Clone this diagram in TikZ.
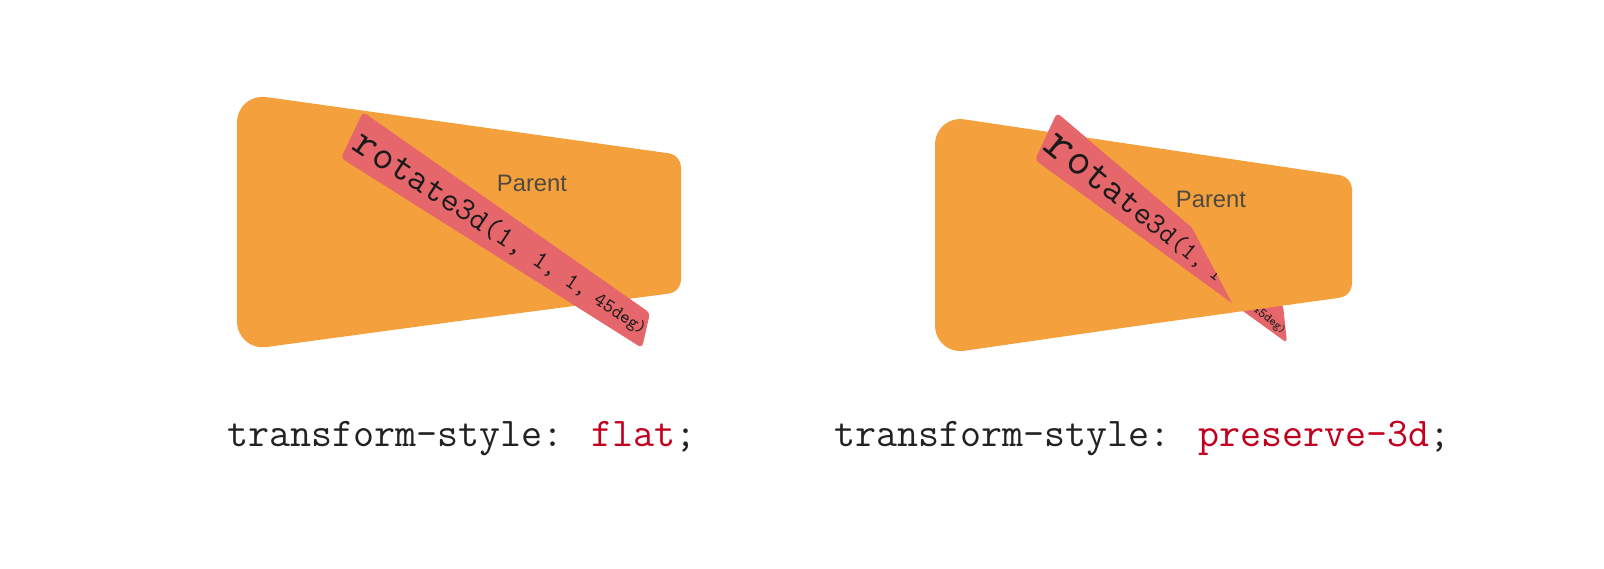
\documentclass[tikz,border=0pt]{standalone}
\usepackage{fontspec}
\newfontfamily\parentfont{Liberation Sans}
\usetikzlibrary{calc}
\definecolor{parentfill}{HTML}{F4A03D}
\definecolor{stripfill}{HTML}{E5666B}
\definecolor{csstext}{HTML}{222222}
\definecolor{cssred}{HTML}{C0001E}
\definecolor{parenttext}{HTML}{4F4A40}
\definecolor{glyphtext}{HTML}{1A1A1A}
% glyph of cell #1 of "rotate3d(1, 1, 1, 45deg)"
\newcommand\cellglyph[1]{\ifcase#1\relax r\or o\or t\or a\or t\or e\or 3\or d\or (\or 1\or ,\or \or 1\or ,\or \or 1\or ,\or \or 4\or 5\or d\or e\or g\or )\fi}
% one perspective cell: #1 S, #2 c, #3 cell index, #4 reference font size (pt)
\newcommand\glyphcell[4]{%
  \pgfmathsetmacro\ucA{#3/24}%
  \pgfmathsetmacro\ucB{(#3+1)/24}%
  \pgfmathsetmacro\wc{#1*\ucB/(1+#2*\ucB)-#1*\ucA/(1+#2*\ucA)}%
  \pgfmathsetmacro\wcpt{0.5*\wc}%
  \pgfmathsetmacro\fc{\wc/0.525*0.5}%
  \pgfmathsetmacro\rc{0.215*(#4-\fc)}%
  \raisebox{\rc pt}{\fontsize{\fc pt}{\fc pt}\selectfont\makebox[\wcpt pt][c]{\cellglyph{#3}}}}
% a run of cells: #1 name, #2 x0, #3 y0, #4 angle, #5 S, #6 c, #7 first cell, #8 last cell
\newcommand\stripline[8]{%
  \pgfmathsetmacro\uA{#7/24}%
  \pgfmathsetmacro\uB{(#7+1)/24}%
  \pgfmathsetmacro\sA{#5*\uA/(1+#6*\uA)}%
  \pgfmathsetmacro\wA{#5*\uB/(1+#6*\uB)-\sA}%
  \pgfmathsetmacro\fA{\wA/0.525*0.5}%
  \pgfmathsetmacro\pX{#2+\sA*cos(#4)-0.41*\wA*sin(#4)}%
  \pgfmathsetmacro\pY{#3+\sA*sin(#4)+0.41*\wA*cos(#4)}%
  \node[glyphrun, rotate=-#4] (#1) at (\pX,\pY) {\foreach \k in {#7,...,#8}{\glyphcell{#5}{#6}{\k}{\fA}}};%
}
\begin{document}
\begin{tikzpicture}[x=0.5pt,y=-0.5pt,
  parentshape/.style={fill=parentfill},
  stripshape/.style={fill=stripfill, rounded corners=2pt},
  parentlabel/.style={font=\parentfont\fontsize{11.9pt}{14pt}\selectfont, text=parenttext, inner sep=0},
  csslabel/.style={font=\ttfamily\fontsize{20.4pt}{24pt}\selectfont, text=csstext, anchor=base west, inner sep=0},
  glyphrun/.style={inner sep=0, anchor=base west, text=glyphtext, font=\ttfamily}]
\useasboundingbox (0,0) rectangle (1604,568);

% ---------- left: flat ----------
\fill[parentshape] (237,222) [rounded corners=15pt] -- (237,93) -- (459,124)
  [rounded corners=6pt] -- (681,155) -- (681,292) -- (459,321)
  [rounded corners=15pt] -- (237,351) -- cycle;
\node[parentlabel] (parentL) at (532,183) {Parent};
\fill[stripshape] (363,112) -- (650,313) -- (642,348) -- (341,158) -- cycle;
\stripline{childL}{355.4}{140.7}{33.5}{560.5}{0.62}{0}{23}

% ---------- right: preserve-3d ----------
% part of the child behind the parent
\fill[stripshape] (1057,113) -- (1283,305) -- (1287,343) -- (1035,160) -- cycle;
\stripline{childRback}{1048.4}{139.3}{39.3}{674.7}{1.216}{13}{23}
% parent
\fill[parentshape] (935,235) [rounded corners=15pt] -- (935,115) -- (1143,146)
  [rounded corners=6pt] -- (1352,177) -- (1352,296) -- (1143,325)
  [rounded corners=15pt] -- (935,355) -- cycle;
\node[parentlabel] (parentR) at (1211,199) {Parent};
% part of the child in front of the parent
\begin{scope}
  \clip (1072,3) -- (1312,453) -- (900,453) -- (900,3) -- cycle;
  \fill[stripshape] (1057,113) -- (1283,305) -- (1287,343) -- (1035,160) -- cycle;
  \stripline{childRfront}{1048.4}{139.3}{39.3}{674.7}{1.216}{0}{12}
\end{scope}

% ---------- labels ----------
\node[csslabel] (lblflat) at (227,446) {transform-style: \textcolor{cssred}{flat};};
\node[csslabel] (lblp3d) at (834,446) {transform-style: \textcolor{cssred}{preserve-3d};};
\end{tikzpicture}
\end{document}
